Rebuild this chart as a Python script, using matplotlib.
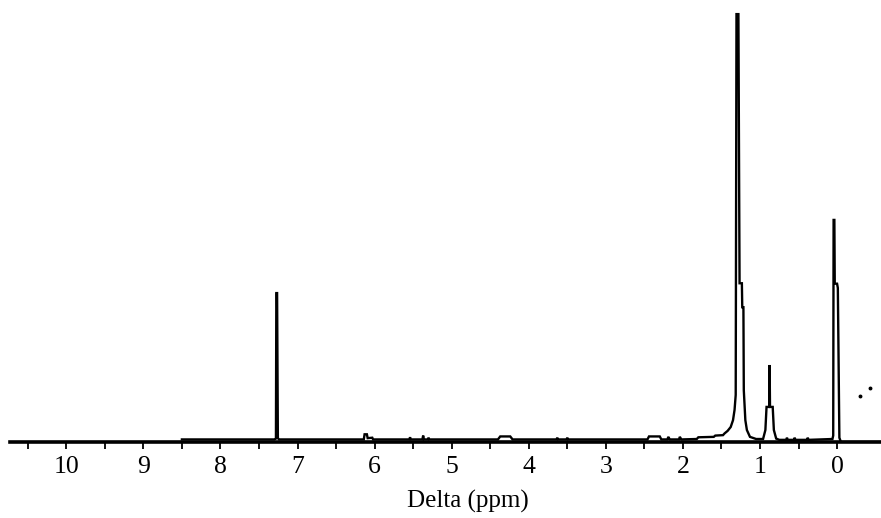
import matplotlib
matplotlib.use("Agg")
import matplotlib.pyplot as plt
import numpy as np

# 1H NMR trace (ppm, relative intensity, tallest peak = 100)
ppm = [8.50, 7.30, 7.28, 7.275, 7.265, 7.255, 7.24,
       6.14, 6.13, 6.10, 6.09, 6.03, 6.02,
       5.55, 5.54, 5.53, 5.38, 5.37, 5.36, 5.31, 5.30, 5.29,
       4.40, 4.37, 4.24, 4.21,
       3.64, 3.63, 3.62, 3.51, 3.50, 3.49,
       2.46, 2.44, 2.30, 2.28, 2.20, 2.19, 2.17, 2.05, 2.04, 2.02,
       1.82, 1.80, 1.60, 1.58, 1.48, 1.46, 1.42, 1.38, 1.35, 1.33, 1.315,
       1.305, 1.28, 1.265, 1.235, 1.23, 1.215, 1.21, 1.19, 1.17, 1.13,
       1.05, 0.96, 0.93, 0.915, 0.88, 0.875, 0.87, 0.835, 0.82, 0.79,
       0.75, 0.66, 0.65, 0.64, 0.56, 0.55, 0.54, 0.39, 0.38, 0.37,
       0.06, 0.05, 0.045, 0.035, 0.03, 0.0, -0.01, -0.03, -0.05, -0.57]
intensity = [0.6, 0.6, 0.8, 34.8, 34.8, 0.9, 0.6,
             0.6, 1.8, 1.8, 0.9, 1.0, 0.6,
             0.6, 1.1, 0.6, 0.6, 1.5, 0.6, 0.6, 1.0, 0.6,
             0.6, 1.3, 1.3, 0.6,
             0.6, 1.0, 0.6, 0.6, 1.0, 0.6,
             0.6, 1.3, 1.3, 0.6, 0.6, 1.2, 0.6, 0.6, 1.2, 0.6,
             0.7, 1.1, 1.2, 1.5, 1.6, 2.0, 2.6, 3.5, 5.1, 7.5, 11.0,
             100.0, 100.0, 37.1, 37.1, 31.5, 31.5, 12.1, 5.1, 2.8, 1.2,
             0.7, 0.7, 2.8, 8.2, 8.2, 18.0, 8.2, 8.2, 2.8, 0.8,
             0.5, 0.5, 1.0, 0.5, 0.5, 1.0, 0.5, 0.5, 1.0, 0.5,
             0.7, 1.5, 51.9, 51.9, 37.0, 37.0, 36.0, 1.0, 0.0, 0.0]

# two stray points right of TMS
dot_ppm = [-0.30, -0.43]
dot_int = [10.7, 12.6]

major_ticks = [10, 9, 8, 7, 6, 5, 4, 3, 2, 1, 0]
minor_ticks = [10.5, 9.5, 8.5, 7.5, 6.5, 5.5, 4.5, 3.5, 2.5, 1.5, 0.5]

plt.rcParams['font.family'] = ['Liberation Serif', 'DejaVu Serif']

fig = plt.figure(figsize=(8.81, 5.18), dpi=100)
ax = fig.add_axes([0.0, 76 / 518, 1.0, 1 - 76 / 518])

ax.plot(ppm, intensity, color='black', lw=1.7, solid_joinstyle='miter')
ax.plot(dot_ppm, dot_int, 'o', color='black', ms=1.8)

ax.set_xlim(10.86, -0.57)
ax.set_ylim(0, 103.3)

for s in ['top', 'right', 'left']:
    ax.spines[s].set_visible(False)
ax.spines['bottom'].set_linewidth(2.6)
ax.spines['bottom'].set_bounds(10.73, -0.57)

ax.set_yticks([])
ax.set_xticks(major_ticks)
ax.set_xticks(minor_ticks, minor=True)
ax.tick_params(axis='x', which='both', direction='out', length=5, width=1.3,
               labelsize=18.5, pad=5)
ax.set_xticklabels([str(t) for t in major_ticks])

fig.text(468 / 881, 5 / 518, 'Delta (ppm)', ha='center', va='bottom', fontsize=18)

fig.savefig('out.png', dpi=100)
